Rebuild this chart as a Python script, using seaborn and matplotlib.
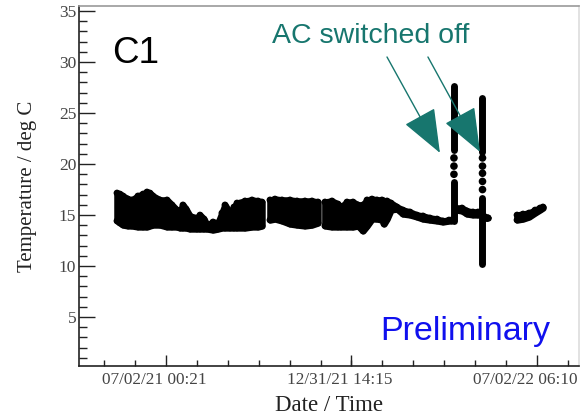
import numpy as np
import pandas as pd
import matplotlib
matplotlib.use("Agg")
import matplotlib.pyplot as plt
from matplotlib.ticker import MultipleLocator, FixedLocator
from matplotlib.transforms import ScaledTranslation
import matplotlib.dates as mdates
import seaborn as sns

# time origin and the labelled x ticks
t0 = pd.Timestamp("2021-07-02 00:21")
tick_dates = ["2021-07-02 00:21", "2021-12-31 14:15", "2022-07-02 06:10"]

# point cloud: days since t0, lower / upper edge (deg C)
band_seg = [0] * 33 + [1] * 8 + [2] * 25 + [3] * 8 + [4] * 6
band_day = [-48.2, -45.3, -42.3, -37.4, -33.5, -27.6, -22.6, -18.7, -15.8, -12.8,
            -5.9, 1.0, 5.9, 10.8, 13.8, 16.7, 19.7, 23.6, 30.5, 33.5,
            37.4, 40.4, 46.3, 51.2, 55.1, 58.1, 63.0, 66.9, 69.9, 77.8,
            84.7, 90.6, 94.5,
            102.4, 107.3, 114.2, 122.1, 129.0, 136.8, 143.7, 149.6,
            156.5, 163.4, 169.3, 172.3, 178.2, 184.1, 189.0, 193.9, 197.9, 202.8,
            207.7, 212.6, 214.6, 217.6, 221.5, 227.4, 233.3, 240.2, 247.1, 253.0,
            259.9, 266.8, 272.7, 278.6, 281.0,
            285.5, 291.4, 296.3, 302.2, 307.1, 311.1, 314.0, 317.0,
            345.6, 351.5, 357.4, 363.3, 368.2, 371.1]
band_lo = [14.43, 14.23, 14.03, 13.94, 13.94, 13.84, 13.84, 13.84, 13.94, 14.03,
           14.03, 13.84, 13.84, 13.84, 13.74, 13.74, 13.74, 13.64, 13.64, 13.64,
           13.64, 13.64, 13.54, 13.64, 13.74, 13.74, 13.74, 13.74, 13.74, 13.74,
           13.84, 13.84, 13.94,
           14.52, 14.62, 14.43, 14.13, 14.03, 13.94, 14.03, 14.23,
           13.94, 13.84, 13.84, 13.84, 13.84, 13.84, 13.94, 13.45, 13.94, 14.62,
           14.62, 14.52, 14.13, 14.62, 15.51, 15.60, 15.11, 15.02, 14.82, 14.62,
           14.52, 14.43, 14.33, 14.43, 14.43,
           15.51, 15.41, 15.11, 15.02, 15.02, 15.00, 14.72, 14.72,
           14.52, 14.62, 14.82, 15.21, 15.51, 15.70]
band_hi = [17.16, 17.06, 16.87, 16.57, 16.48, 16.87, 17.06, 17.26, 17.16, 16.87,
           16.48, 16.48, 15.99, 15.49, 15.40, 15.99, 15.59, 14.91, 14.71, 15.00,
           14.61, 14.02, 14.32, 14.22, 15.20, 15.99, 15.20, 15.79, 16.18, 16.38,
           16.48, 16.38, 16.28,
           16.48, 16.57, 16.48, 16.48, 16.38, 16.38, 16.38, 16.28,
           16.28, 16.38, 16.08, 15.79, 16.28, 16.28, 15.99, 15.99, 16.48, 16.57,
           16.48, 16.48, 16.38, 16.38, 16.18, 15.79, 15.49, 15.30, 15.00, 14.91,
           14.71, 14.61, 14.42, 14.51, 14.51,
           15.69, 15.69, 15.40, 15.30, 15.30, 15.10, 14.81, 14.72,
           15.00, 15.10, 15.20, 15.49, 15.69, 15.79]

# the two AC-off excursions: solid stretches and isolated points
spike_day = [283.5, 283.5, 311.6, 311.6]
spike_lo = [21.4, 14.4, 21.2, 10.2]
spike_hi = [27.65, 18.2, 26.5, 16.7]
dot_day = [283.5, 283.5, 283.5, 311.6, 311.6, 311.6, 311.6, 311.6]
dot_temp = [20.6, 19.8, 19.0, 20.6, 19.8, 19.1, 18.3, 17.5]


def to_time(days):
    return t0 + pd.to_timedelta(np.asarray(days, dtype=float), unit="D")


band = pd.DataFrame({"seg": band_seg, "time": to_time(band_day),
                     "lo": band_lo, "hi": band_hi})
edges = pd.concat([band[["time", "lo"]].rename(columns={"lo": "temp"}),
                   band[["time", "hi"]].rename(columns={"hi": "temp"})])
dots = pd.DataFrame({"time": to_time(dot_day), "temp": dot_temp})

sns.set_style("ticks")
plt.rcParams["font.family"] = ["Liberation Serif", "DejaVu Serif"]

fig = plt.figure(figsize=(5.8, 4.17), dpi=100)
ax = fig.add_axes([79 / 580, 1 - 366 / 417, 500 / 580, 360 / 417])

for _, g in band.groupby("seg"):
    ax.fill_between(g["time"], g["lo"], g["hi"], facecolor="black",
                    edgecolor="black", linewidth=4.7, joinstyle="round")
sns.scatterplot(data=edges, x="time", y="temp", color="black", s=24,
                edgecolor="none", ax=ax)
ax.vlines(to_time(spike_day), spike_lo, spike_hi, color="black",
          linewidth=5.0, capstyle="round")
sns.scatterplot(data=dots, x="time", y="temp", color="black", s=30,
                edgecolor="none", ax=ax)

# axes ranges and ticks
ax.set_xlim(t0 - pd.Timedelta(days=85.6), t0 + pd.Timedelta(days=406.6))
ax.set_ylim(0.2, 35.5)
majors = pd.to_datetime(tick_dates)
step = (majors[-1] - majors[0]) / 12
minors = [majors[0] + k * step for k in range(-2, 15)]
ax.xaxis.set_major_locator(FixedLocator(mdates.date2num(majors)))
ax.xaxis.set_minor_locator(FixedLocator(mdates.date2num(minors)))
ax.xaxis.set_major_formatter(mdates.DateFormatter("%m/%d/%y %H:%M"))
ax.yaxis.set_major_locator(MultipleLocator(5))
ax.yaxis.set_minor_locator(MultipleLocator(1))
ax.set_yticks([5, 10, 15, 20, 25, 30, 35])

ax.tick_params(which="both", direction="in", colors="#222222",
               labelcolor="#444444")
ax.tick_params(axis="y", which="major", length=11.5, width=1.0,
               labelsize=12.5, pad=2)
ax.tick_params(axis="y", which="minor", length=5.8, width=1.0)
ax.tick_params(axis="x", which="major", length=8, width=1.0,
               labelsize=12.4, pad=4)
ax.tick_params(axis="x", which="minor", length=4.3, width=1.0)

# date labels sit a little left of their ticks
shift = ScaledTranslation(-12 / 100, 0, fig.dpi_scale_trans)
for lab in ax.get_xticklabels():
    lab.set_transform(lab.get_transform() + shift)

for side, col in [("left", "#222222"), ("bottom", "#222222"),
                  ("top", "#999999"), ("right", "#dddddd")]:
    ax.spines[side].set_color(col)
    ax.spines[side].set_linewidth(1.2)

ax.set_xlabel("Date / Time", fontsize=16.5, color="#222222")
ax.set_ylabel("Temperature / deg C", fontsize=15, color="#222222")
ax.xaxis.set_label_coords(0.5, -0.08)
ax.yaxis.set_label_coords(-0.084, 0.5)

# annotations
teal = "#17766e"
sans = ["Liberation Sans", "DejaVu Sans"]
ax.text(0.066, 0.842, "C1", transform=ax.transAxes, fontsize=26.5,
        family=sans, color="black", va="baseline")
ax.text(0.386, 0.897, "AC switched off", transform=ax.transAxes,
        fontsize=20.5, family=sans, color=teal, va="baseline")
ax.text(0.602, 0.072, "Preliminary", transform=ax.transAxes, fontsize=24.5,
        family=sans, color="#1010ee", va="baseline")
arrows = [((217.6, 30.5), (269.7, 21.1)), ((257.9, 30.5), (309.1, 21.2))]
for (x0, y0), (x1, y1) in arrows:
    ax.annotate("", xy=(to_time([x1])[0], y1), xytext=(to_time([x0])[0], y0),
                arrowprops=dict(arrowstyle="-|>,head_length=1.4,head_width=0.55",
                                color=teal, lw=1.0, mutation_scale=20,
                                shrinkA=0, shrinkB=0))

fig.savefig("out.png", dpi=100, facecolor="white")
